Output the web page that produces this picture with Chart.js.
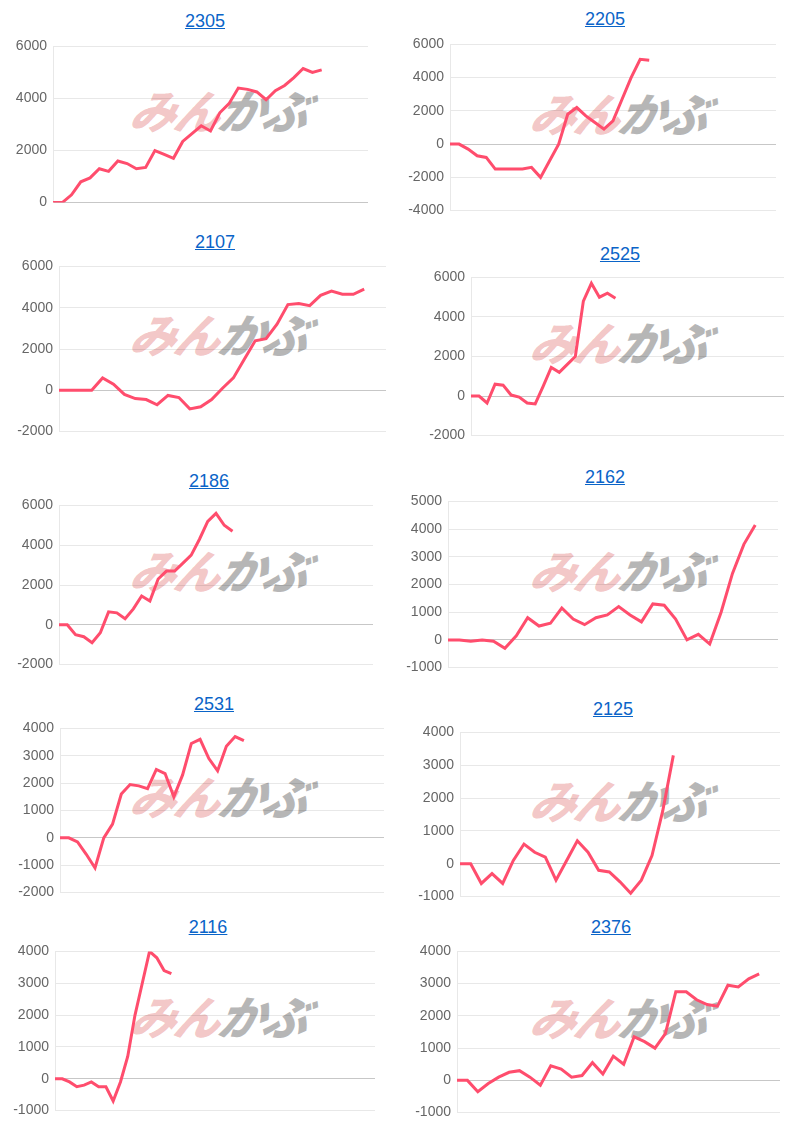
<!DOCTYPE html>
<html>
<head>
<meta charset="utf-8">
<script src="https://cdn.jsdelivr.net/npm/chart.js@4"></script>
<style>
  body { margin: 0; width: 800px; height: 1127px; background: #fff; position: relative; font-family: "Liberation Sans", Arial, sans-serif; overflow: hidden; }
  .ttl { position: absolute; width: 200px; margin-left: -100px; text-align: center; font-size: 18px; color: #0a64c8; text-decoration: underline; }
  .wm { position: absolute; font-family: "Noto Sans CJK JP", sans-serif; font-weight: 900; font-style: italic; font-size: 46px; letter-spacing: -2px; white-space: nowrap; transform: skewX(-12deg); }
  .wm .a { color: rgba(225, 110, 110, 0.4); }
  .wm .b { color: rgba(110, 110, 110, 0.5); }
  canvas { position: absolute; }
</style>
</head>
<body>
<script>
// stock codes shown as chart titles
const codes = ['2305', '2205', '2107', '2525', '2186', '2162', '2531', '2125', '2116', '2376'];

// cumulative series
const s2305 = [0, 0, 300, 800, 950, 1300, 1200, 1600, 1500, 1300, 1350, 2000, 1850, 1700, 2350, 2650, 2950, 2750, 3450, 3800, 4400, 4350, 4250, 3950, 4300, 4500, 4800, 5150, 5000, 5100];
const s2205 = [0, 0, -300, -700, -800, -1500, -1500, -1500, -1500, -1400, -2000, -1000, 0, 1800, 2200, 1700, 1300, 900, 1400, 2700, 4000, 5100, 5050];
const s2107 = [0, 0, 0, 0, 600, 300, -200, -400, -450, -700, -250, -350, -900, -800, -450, 100, 600, 1500, 2400, 2500, 3200, 4150, 4200, 4100, 4600, 4800, 4650, 4650, 4900];
const s2525 = [0, 0, -350, 600, 550, 50, -50, -350, -400, 500, 1450, 1200, 1600, 2000, 4800, 5700, 5000, 5200, 4950];
const s2186 = [0, 0, -500, -600, -900, -400, 650, 600, 300, 800, 1450, 1200, 2300, 2700, 2700, 3100, 3500, 4300, 5200, 5600, 5000, 4700];
const s2162 = [0, 0, -50, 0, -50, -300, 150, 800, 500, 600, 1150, 750, 550, 800, 900, 1200, 900, 650, 1300, 1250, 750, 0, 200, -150, 1000, 2400, 3450, 4150];
const s2531 = [0, 0, -150, -600, -1100, 0, 500, 1600, 1950, 1900, 1800, 2500, 2350, 1500, 2300, 3450, 3600, 2900, 2450, 3350, 3700, 3550];
const s2125 = [0, 0, -600, -300, -600, 100, 600, 350, 200, -500, 100, 700, 350, -200, -250, -550, -900, -500, 250, 1600, 3300];
const s2116 = [0, 0, -100, -250, -200, -100, -250, -250, -700, -100, 700, 2000, 3000, 4000, 3800, 3400, 3300];
const s2376 = [0, 0, -350, -100, 100, 250, 300, 100, -150, 450, 350, 100, 150, 550, 200, 750, 500, 1350, 1200, 1000, 1450, 2750, 2750, 2500, 2350, 2300, 2950, 2900, 3150, 3300];
const series = [s2305, s2205, s2107, s2525, s2186, s2162, s2531, s2125, s2116, s2376];

// number of x slots (days) on each chart
const slotCounts = [35, 37, 31, 40, 39, 30, 38, 31, 45, 32];
// y-axis tick ranges
const yMins = [0, -4000, -2000, -2000, -2000, -1000, -2000, -1000, -1000, -1000];
const yMaxs = [6000, 6000, 6000, 6000, 6000, 5000, 4000, 4000, 4000, 4000];
const ySteps = [2000, 2000, 2000, 2000, 2000, 1000, 1000, 1000, 1000, 1000];

// layout: title centre, plot area box [left, right, top, bottom]
const titlePos = [[205, 22], [605, 20], [215, 243], [620, 255], [209, 482], [605, 478], [214, 705], [613, 710], [208, 928], [611, 928]];
const plotBox = [
  [53, 368, 45, 202], [450, 776, 43, 210],
  [59, 386, 265, 431], [471, 784, 276, 435],
  [59, 373, 504, 664], [448, 778, 500, 667],
  [60, 384, 727, 892], [460, 780, 731, 896],
  [55, 375, 950, 1110], [457, 780, 950, 1112]
];

codes.forEach((code, i) => {
  const [l, r, t, b] = plotBox[i];
  const x0 = i % 2 === 0 ? 0 : 400;
  const pad = 10;

  const a = document.createElement('a');
  a.className = 'ttl';
  a.textContent = code;
  a.style.left = titlePos[i][0] + 'px';
  a.style.top = (titlePos[i][1] - 11) + 'px';
  document.body.appendChild(a);

  const wm = document.createElement('div');
  wm.className = 'wm';
  wm.innerHTML = '<span class="a">みん</span><span class="b">かぶ</span>';
  wm.style.left = (x0 + 132) + 'px';
  wm.style.top = ((t + b) / 2 - 48) + 'px';
  document.body.appendChild(wm);

  const cv = document.createElement('canvas');
  cv.style.left = x0 + 'px';
  cv.style.top = (t - pad - 3) + 'px';
  cv.style.width = '400px';
  cv.style.height = (b - t + pad * 2 + 8) + 'px';
  document.body.appendChild(cv);

  new Chart(cv.getContext('2d'), {
    type: 'line',
    data: {
      labels: Array(slotCounts[i]).fill(''),
      datasets: [{
        data: series[i],
        borderColor: '#ff4d6d',
        borderWidth: 3,
        pointRadius: 0,
        tension: 0,
        fill: false
      }]
    },
    options: {
      responsive: false,
      animation: false,
      maintainAspectRatio: false,
      layout: { padding: { top: pad - 7, bottom: pad - 7, right: x0 + 400 - r, left: 0 } },
      plugins: { legend: { display: false }, tooltip: { enabled: false } },
      scales: {
        x: { display: false, offset: false },
        y: {
          min: yMins[i],
          max: yMaxs[i],
          afterFit: s => { s.width = l - x0; },
          ticks: { stepSize: ySteps[i], color: '#666', font: { size: 14, family: 'Liberation Sans' }, padding: 6, callback: v => String(v) },
          grid: {
            color: ctx => ctx.tick && ctx.tick.value === 0 ? 'rgba(0,0,0,0.22)' : 'rgba(0,0,0,0.09)',
            drawTicks: false
          },
          border: { color: 'rgba(0,0,0,0.09)' }
        }
      }
    }
  });
});
</script>
</body>
</html>
